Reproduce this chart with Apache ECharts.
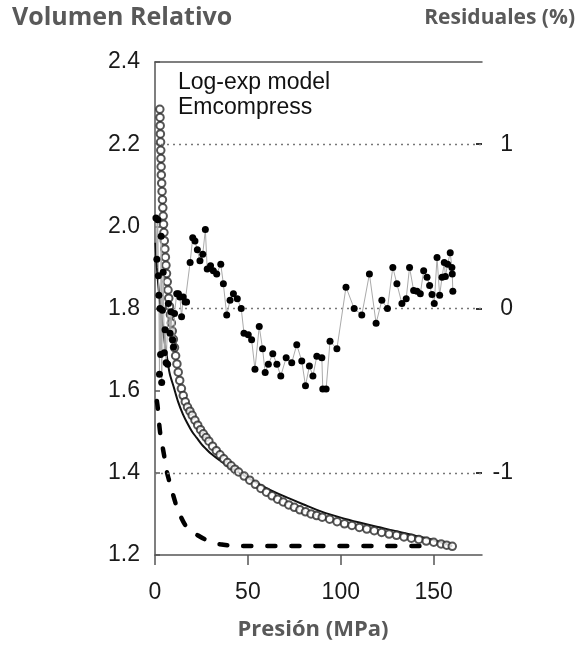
<!DOCTYPE html>
<html>
<head>
<meta charset="utf-8">
<script src="https://cdn.jsdelivr.net/npm/echarts@6/dist/echarts.min.js"></script>
<style>
html,body{margin:0;padding:0;background:#fff;}
#chart{width:579px;height:646px;}
</style>
</head>
<body>
<div id="chart"></div>
<script>
// Emcompress measured data (open circles)
const pressureCircles = [2.6,2.7,2.8,2.9,3.0,3.1,3.2,3.3,3.4,3.6,3.8,4.0,4.2,4.4,4.6,4.8,5.0,5.3,5.6,5.9,6.2,6.6,7.0,7.4,7.8,8.3,8.8,9.3,9.9,10.5,11.1,11.8,12.5,13.3,14.2,15.2,16.3,17.5,18.8,20,21.5,23,24.5,26,27.5,29,31,33,35,37,39,41,43,45,48,51,54,57,60,63,66,69,72,75,78,81,84,87,90,94,98,102,106,110,114,118,122,126,130,134,138,142,146,150,154,157,160];
const volumeCircles = [2.285,2.265,2.245,2.225,2.205,2.185,2.165,2.145,2.125,2.105,2.085,2.065,2.045,2.025,2.005,1.985,1.965,1.945,1.925,1.905,1.885,1.865,1.845,1.825,1.805,1.785,1.765,1.745,1.725,1.705,1.685,1.665,1.645,1.625,1.605,1.588,1.573,1.560,1.550,1.540,1.528,1.516,1.505,1.495,1.486,1.477,1.465,1.454,1.444,1.434,1.425,1.417,1.409,1.402,1.392,1.382,1.372,1.362,1.353,1.344,1.336,1.329,1.322,1.316,1.310,1.305,1.300,1.296,1.292,1.287,1.281,1.276,1.272,1.267,1.263,1.259,1.255,1.251,1.248,1.244,1.241,1.238,1.234,1.231,1.227,1.224,1.221];

// Log-exp model (solid line)
const pressureModel = [0.2,1,2,3,4,5,6,7,8,10,12.5,15,17.5,20,22.5,25,27.5,30,35,40,46,50,60,70,80,90,100,110,120,130,140,150,160];
const volumeModel = [1.96,1.90,1.845,1.80,1.76,1.725,1.695,1.665,1.64,1.61,1.572,1.543,1.52,1.50,1.485,1.47,1.458,1.447,1.43,1.414,1.399,1.388,1.363,1.342,1.323,1.305,1.291,1.279,1.268,1.258,1.247,1.236,1.222];

// Dashed curve
const pressureDashed = [1,1.5,2,3,4,5,6.5,8,9.5,11.5,13.5,16,19,22.6,27,35,45,60,80,100,120,150];
const volumeDashed = [1.575,1.558,1.53,1.49,1.465,1.44,1.40,1.375,1.35,1.32,1.297,1.275,1.26,1.249,1.238,1.226,1.222,1.222,1.222,1.222,1.222,1.222];

// Residuals (%)
const pressureResid = [0.5,1.0,1.5,1.8,2.1,2.4,2.7,3.0,3.3,3.6,4.0,4.4,5.0,5.4,6.0,6.8,7.2,8.1,8.6,9.5,10.0,10.5,11.7,12.6,13.4,14.3,15.2,16.2,17.0,18.9,20.3,21.5,22.8,24.2,25.7,27.1,28.1,29.9,31.4,33.2,35.4,36.8,38.6,40.4,42.2,44.3,46.4,47.9,50.2,52.0,53.8,56.1,57.9,59.3,61.0,63.4,65.6,67.7,70.6,73.6,76.3,79.0,81.0,83.1,85.0,87.1,89.8,90.3,92.1,94.2,97.9,102.8,107.2,111.3,115.4,119,122.1,125.1,128,130.2,132.9,135.2,137,139.2,141,142.8,144.6,146.4,147.8,149.1,150.3,151.8,153.2,154.5,155.7,156.3,157.5,158.9,159.8,160.0,160.3];
const residuals = [0.55,0.3,0.54,0.2,0.08,-0.4,0.0,-0.28,0.44,-0.45,-0.01,0.22,-0.27,-0.13,-0.33,-0.34,0.03,-0.15,-0.02,-0.19,-0.235,-0.03,0.09,0.09,0.07,-0.05,0.07,0.04,0.04,0.28,0.43,0.41,0.357,0.29,0.33,0.48,0.24,0.26,0.23,0.21,0.27,0.15,-0.04,0.05,0.09,0.06,0.0,-0.15,-0.16,-0.19,-0.37,-0.11,-0.245,-0.39,-0.34,-0.275,-0.34,-0.41,-0.30,-0.33,-0.22,-0.32,-0.47,-0.35,-0.41,-0.29,-0.30,-0.49,-0.49,-0.20,-0.245,0.13,0.0,-0.04,0.21,-0.09,0.05,0.0,0.25,0.15,0.03,0.06,0.25,0.11,0.105,0.09,0.23,0.19,0.14,0.085,0.03,0.31,0.08,0.19,0.28,0.195,0.27,0.34,0.25,0.21,0.105];

const xTicks = [0,50,100,150];
const residTicks = [-1,0,1];
const residGrid = [1,0,-1];

const zip = (a,b) => a.map((v,i)=>[v,b[i]]);

const chart = echarts.init(document.getElementById('chart'), null, {renderer:'canvas'});
const axisColor = '#555';
const labelFont = 'Liberation Sans';

chart.setOption({
  animation:false,
  backgroundColor:'#fff',
  grid:{left:155,right:97,top:62,bottom:91},
  xAxis:[{
    type:'value',min:0,max:176,interval:50,position:'bottom',
    axisLine:{show:true,onZero:false,lineStyle:{color:axisColor,width:1.5}},
    axisTick:{show:true,length:10,customValues:xTicks,lineStyle:{color:axisColor,width:1.5}},
    axisLabel:{customValues:xTicks,fontSize:23,color:'#1a1a1a',margin:26,fontFamily:labelFont},
    splitLine:{show:false}
  },{
    type:'value',min:0,max:176,position:'top',
    axisLine:{show:true,onZero:false,lineStyle:{color:axisColor,width:1.5}},
    axisTick:{show:false},axisLabel:{show:false},splitLine:{show:false}
  }],
  yAxis:[{
    type:'value',min:1.2,max:2.4,interval:0.2,position:'left',
    axisLine:{show:true,onZero:false,lineStyle:{color:axisColor,width:1.5}},
    axisTick:{show:true,inside:true,length:5,lineStyle:{color:axisColor,width:1.5}},
    axisLabel:{fontSize:23,color:'#1a1a1a',margin:15,fontFamily:labelFont,formatter:v=>v.toFixed(1)},
    splitLine:{show:false}
  },{
    type:'value',min:-1.5,max:1.5,interval:0.5,position:'right',
    axisLine:{show:false,onZero:false},
    axisTick:{show:true,inside:true,length:6,customValues:residTicks,lineStyle:{color:'#333',width:2}},
    axisLabel:{customValues:residTicks,fontSize:23,color:'#1a1a1a',margin:31,align:'right',fontFamily:labelFont},
    splitLine:{show:false}
  }],
  series:[
    {
      type:'line',name:'dashed',data:zip(pressureDashed,volumeDashed),smooth:0.3,showSymbol:false,
      lineStyle:{color:'#000',width:4.5,type:[8,16],cap:'round'},z:2
    },
    {
      type:'line',name:'Log-exp model',data:zip(pressureModel,volumeModel),smooth:0.3,showSymbol:false,
      lineStyle:{color:'#111',width:2},z:3
    },
    {
      type:'scatter',name:'Emcompress',data:zip(pressureCircles,volumeCircles),symbol:'emptyCircle',symbolSize:7.5,
      itemStyle:{color:'#2a2a2a',borderWidth:1.3},z:4
    },
    {
      type:'line',name:'Residuales',yAxisIndex:1,data:zip(pressureResid,residuals),symbol:'circle',symbolSize:7,showSymbol:true,
      lineStyle:{color:'#aaa',width:1},itemStyle:{color:'#000'},z:5,
      markLine:{silent:true,symbol:'none',label:{show:false},animation:false,
        lineStyle:{type:[2,4],color:'#777',width:1.3},
        data:residGrid.map(v=>({yAxis:v}))}
    }
  ],
  graphic:[
    {type:'text',x:12,y:18,style:{text:'Volumen Relativo',font:'bold 25px "Open Sans"',fill:'#595959',align:'left',textAlign:'left',verticalAlign:'middle',textVerticalAlign:'middle'}},
    {type:'text',x:575,y:18,style:{text:'Residuales (%)',font:'bold 21px "Open Sans"',fill:'#595959',align:'right',textAlign:'right',verticalAlign:'middle',textVerticalAlign:'middle'}},
    {type:'text',x:313,y:630,style:{text:'Presión (MPa)',font:'bold 22px "Open Sans"',fill:'#595959',align:'center',textAlign:'center',verticalAlign:'middle',textVerticalAlign:'middle'}},
    {type:'text',x:178,y:83,z:10,style:{text:'Log-exp model',font:'23px "Liberation Sans"',fill:'#111',align:'left',textAlign:'left',verticalAlign:'middle',textVerticalAlign:'middle'}},
    {type:'text',x:178,y:108,z:10,style:{text:'Emcompress',font:'23px "Liberation Sans"',fill:'#111',align:'left',textAlign:'left',verticalAlign:'middle',textVerticalAlign:'middle'}}
  ]
});
</script>
</body>
</html>
